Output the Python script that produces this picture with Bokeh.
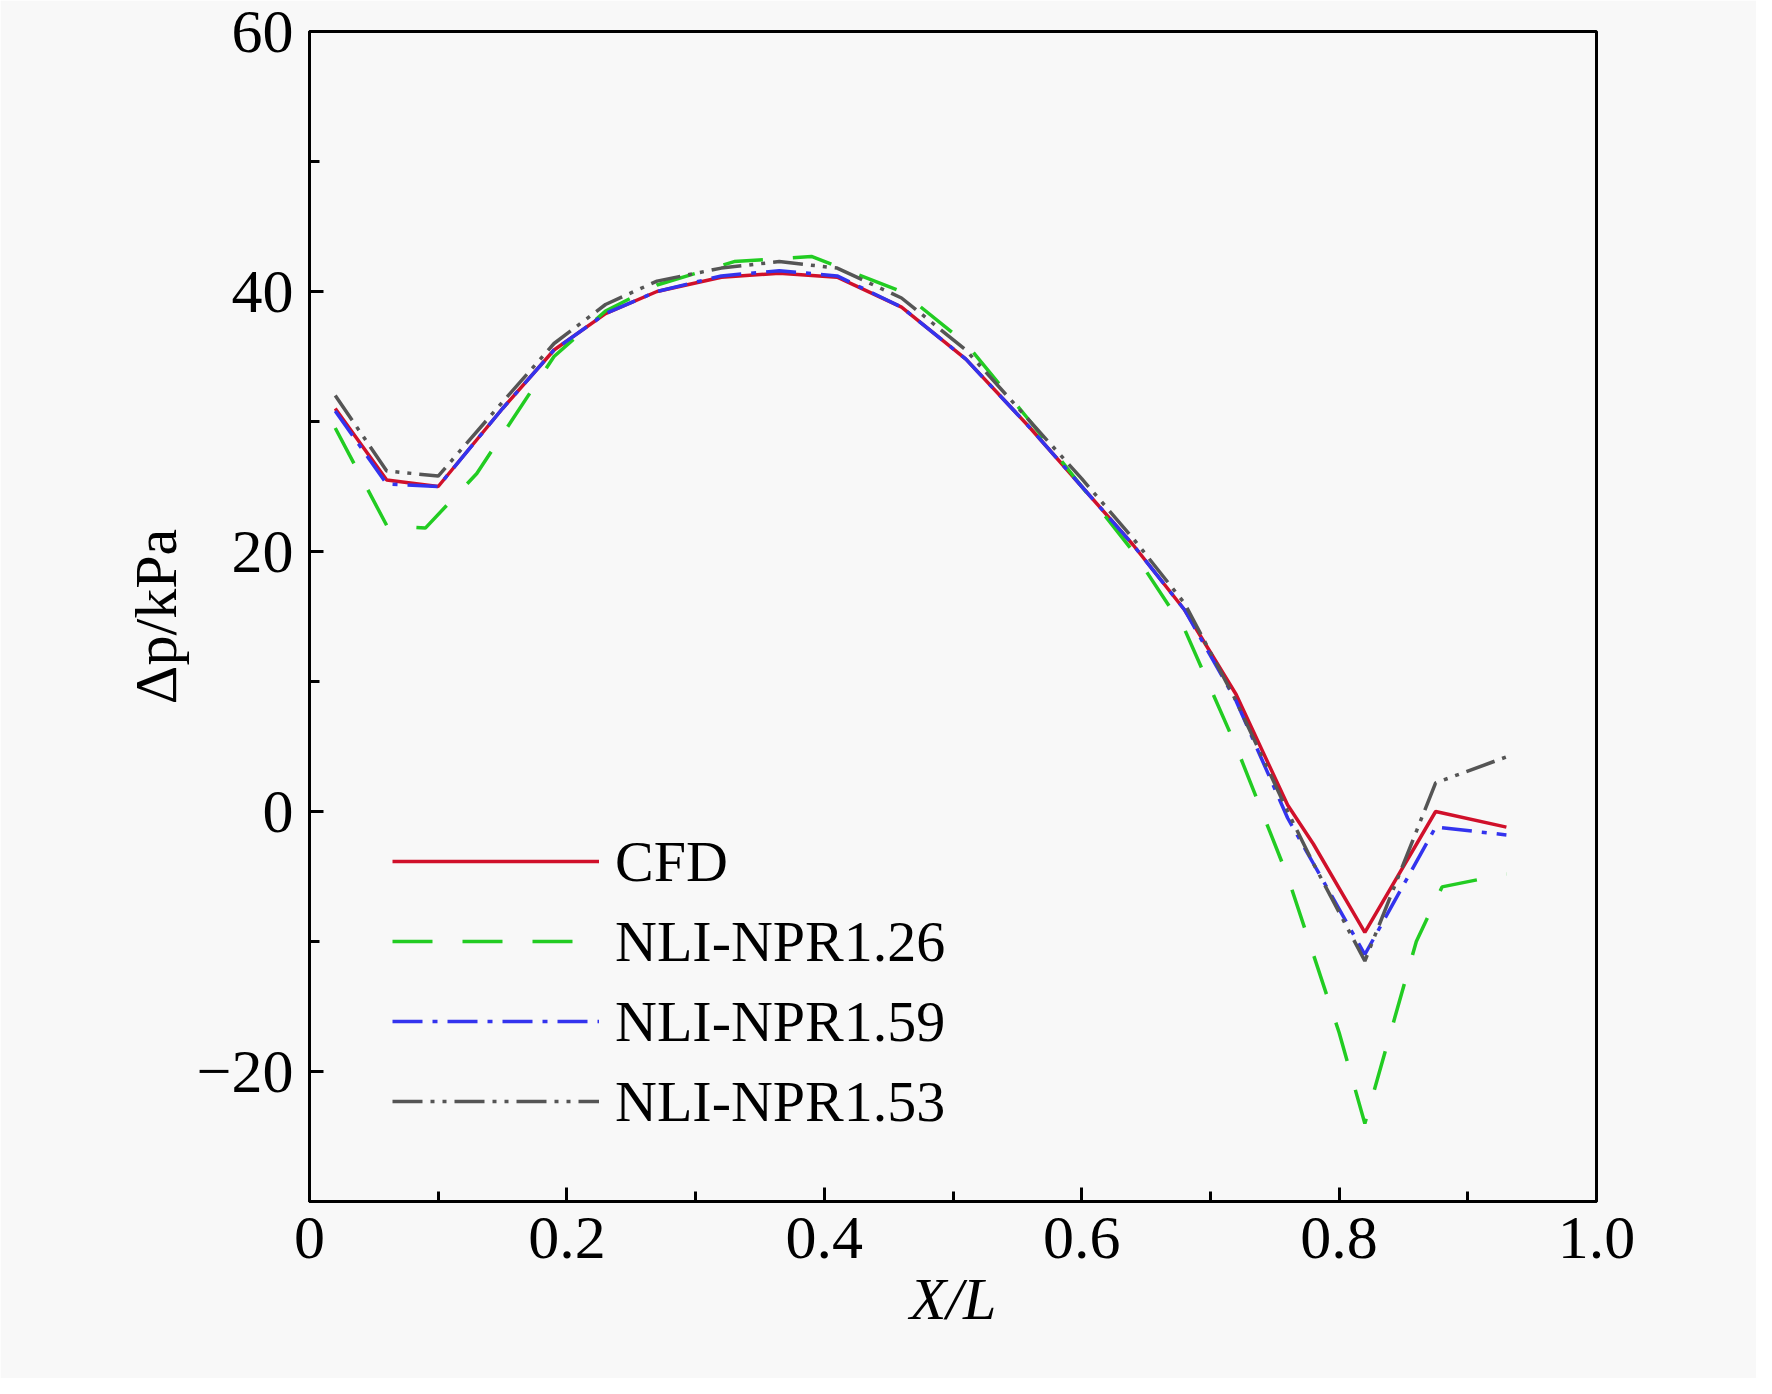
from bokeh.plotting import figure
from bokeh.models import Legend, LegendItem, Range1d, FixedTicker
from bokeh.embed import file_html
from bokeh.resources import INLINE

x_cfd = [0.02, 0.06, 0.10, 0.15, 0.19, 0.23, 0.27, 0.32, 0.365, 0.41, 0.46, 0.51, 0.56, 0.60, 0.64, 0.68, 0.72, 0.76, 0.78, 0.82, 0.875, 0.93]
y_cfd = [31.0, 25.5, 25.0, 31.0, 35.5, 38.3, 40.0, 41.1, 41.4, 41.1, 38.8, 34.8, 29.5, 25.0, 20.5, 15.5, 9.0, 0.5, -2.5, -9.3, 0.0, -1.2]
x_126 = [0.02, 0.06, 0.09, 0.13, 0.19, 0.23, 0.27, 0.33, 0.39, 0.46, 0.51, 0.56, 0.60, 0.64, 0.68, 0.72, 0.76, 0.80, 0.82, 0.86, 0.88, 0.93]
y_126 = [29.5, 22.0, 21.8, 26.0, 35.0, 38.5, 40.5, 42.3, 42.7, 40.0, 36.0, 30.0, 25.0, 20.0, 14.0, 5.0, -5.0, -17.0, -24.0, -10.0, -5.8, -4.8]
y_159 = [30.8, 25.2, 25.0, 31.0, 35.5, 38.3, 40.0, 41.2, 41.6, 41.2, 38.8, 34.8, 29.5, 25.0, 20.5, 15.5, 8.5, -0.5, -4.0, -11.0, -1.2, -1.8]
y_153 = [32.0, 26.2, 25.8, 31.5, 36.0, 39.0, 40.8, 41.8, 42.3, 41.8, 39.5, 35.5, 30.0, 25.6, 21.0, 16.0, 8.5, 0.0, -4.0, -11.5, 2.2, 4.2]
labels = ["CFD", "NLI-NPR1.26", "NLI-NPR1.59", "NLI-NPR1.53"]

FONT = "Liberation Serif"
p = figure(width=1756, height=1378, output_backend="svg", toolbar_location=None,
           x_range=Range1d(0, 1.0), y_range=Range1d(-30, 60),
           min_border_left=309, min_border_right=160, min_border_top=31, min_border_bottom=177)
p.background_fill_color = "#f8f8f8"
p.border_fill_color = "#f8f8f8"
p.grid.visible = False
p.outline_line_color = "black"
p.outline_line_width = 3

r1 = p.line(x_cfd, y_cfd, line_color="#d0102a", line_width=3.5)
r2 = p.line(x_126, y_126, line_color="#22cc22", line_width=3.5, line_dash="40 30")
r3 = p.line(x_cfd, y_159, line_color="#3333ee", line_width=3.5, line_dash="30 10 5 10")
r4 = p.line(x_cfd, y_153, line_color="#555555", line_width=3.5, line_dash="30 8 4 8 4 8")

for ax in (p.xaxis[0], p.yaxis[0]):
    ax.axis_line_width = 3
    ax.major_tick_in = 14
    ax.major_tick_out = 0
    ax.minor_tick_in = 10
    ax.minor_tick_out = 0
    ax.major_tick_line_width = 3
    ax.minor_tick_line_width = 3
    ax.major_label_text_font = FONT
    ax.major_label_text_font_size = "62px"
    ax.major_label_text_color = "black"
    ax.axis_label_text_font = FONT
    ax.axis_label_text_font_size = "60px"
    ax.axis_label_text_font_style = "normal"
    ax.axis_label_text_color = "black"
p.xaxis.ticker = FixedTicker(ticks=[0, 0.2, 0.4, 0.6, 0.8, 1.0], minor_ticks=[0.1, 0.3, 0.5, 0.7, 0.9])
p.yaxis.ticker = FixedTicker(ticks=[-20, 0, 20, 40, 60], minor_ticks=[-30, -10, 10, 30, 50])
p.xaxis.major_label_overrides = {0: "0", 0.2: "0.2", 0.4: "0.4", 0.6: "0.6", 0.8: "0.8", 1.0: "1.0"}
p.yaxis.major_label_overrides = {-20: "\u221220"}
p.xaxis.axis_label = "X/L"
p.xaxis.axis_label_text_font_style = "italic"
p.yaxis.axis_label = "\u0394p/kPa"
p.xaxis.major_label_standoff = 16
p.yaxis.major_label_standoff = 16

legend = Legend(items=[LegendItem(label=l, renderers=[r]) for l, r in zip(labels, [r1, r2, r3, r4])],
                location=(83, 60), glyph_width=207, glyph_height=80, label_height=80,
                spacing=0, label_text_font=FONT, label_text_font_size="58px",
                label_text_color="black",
                border_line_color=None, background_fill_alpha=0, label_standoff=16)
p.add_layout(legend)

open("out.html", "w").write(file_html(p, INLINE))
